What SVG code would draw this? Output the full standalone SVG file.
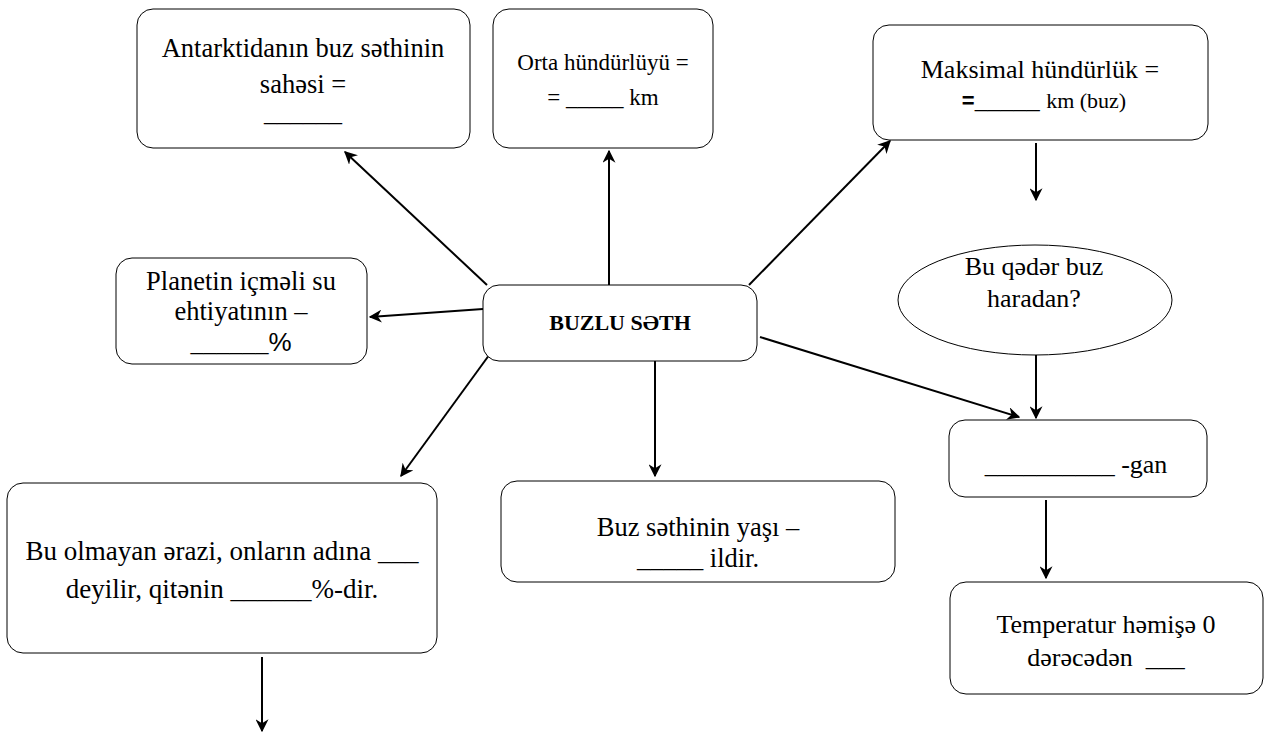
<svg xmlns="http://www.w3.org/2000/svg" width="1266" height="733" viewBox="0 0 1266 733">
  <style>
    .box { fill: #ffffff; stroke: #000000; stroke-width: 1; }
    .lbl { font-family: 'Liberation Serif', 'Times New Roman', serif; font-size: 26px; fill: #000000; text-anchor: middle; }
    .bold { font-weight: bold; font-size: 22px; }
    .small { font-size: 22px; }
    .sans { font-family: 'Liberation Sans', Arial, sans-serif; }
    .conn line { stroke: #000000; stroke-width: 2; marker-end: url(#arrow); }
  </style>
  <defs>
    <marker id="arrow" viewBox="0 0 10 10" refX="9" refY="5" markerWidth="6.5" markerHeight="6.5" orient="auto" markerUnits="strokeWidth">
      <path d="M0,0 L10,5 L0,10 L3,5 z" fill="#000000"/>
    </marker>
  </defs>
  <rect width="1266" height="733" fill="#ffffff"/>

  <!-- connectors from the central node and between the side nodes -->
  <g class="conn">
    <line x1="487" y1="285" x2="345" y2="152"/>
    <line x1="609" y1="285" x2="609" y2="151"/>
    <line x1="749" y1="285" x2="890" y2="141"/>
    <line x1="483" y1="309" x2="370" y2="317"/>
    <line x1="503" y1="336" x2="401" y2="476"/>
    <line x1="655" y1="360" x2="655" y2="476"/>
    <line x1="760" y1="337" x2="1019" y2="417"/>
    <line x1="1036" y1="143" x2="1036" y2="200"/>
    <line x1="1036" y1="341" x2="1036" y2="418"/>
    <line x1="1046" y1="500" x2="1046" y2="578"/>
    <line x1="262" y1="657" x2="262" y2="731"/>
  </g>

  <g id="antarktida">
    <rect class="box" x="137" y="9" width="333" height="139" rx="16"/>
    <text class="lbl" x="303" y="57" style="font-size:26.5px">Antarktidanın buz səthinin</text>
    <text class="lbl" x="303" y="93" style="font-size:26.5px">sahəsi =</text>
    <text class="lbl" x="303" y="121">______</text>
  </g>

  <g id="orta">
    <rect class="box" x="493" y="9" width="220" height="139" rx="16"/>
    <text class="lbl" x="603" y="70" style="font-size:23px">Orta hündürlüyü =</text>
    <text class="lbl" x="603" y="105" style="font-size:23px">= _____ km</text>
  </g>

  <g id="maksimal">
    <rect class="box" x="873" y="25" width="335" height="115" rx="16"/>
    <text class="lbl" x="1040" y="78">Maksimal hündürlük =</text>
    <text class="lbl" x="1044" y="108"><tspan class="sans" font-weight="bold" style="font-size:22px">=</tspan>_____ <tspan class="small">km (buz)</tspan></text>
  </g>

  <g id="planetin">
    <rect class="box" x="116" y="258" width="251" height="106" rx="16"/>
    <text class="lbl" x="241" y="290" style="font-size:26.5px">Planetin içməli su</text>
    <text class="lbl" x="241" y="320" style="font-size:26.5px">ehtiyatının –</text>
    <text class="lbl" x="241" y="351">______<tspan class="sans">%</tspan></text>
  </g>

  <g id="buzlu-seth">
    <rect class="box" x="483" y="285" width="274" height="76" rx="16"/>
    <text class="lbl bold" x="620" y="330">BUZLU SƏTH</text>
  </g>

  <g id="haradan">
    <ellipse class="box" cx="1035" cy="300" rx="137" ry="55"/>
    <text class="lbl" x="1034" y="275">Bu qədər buz</text>
    <text class="lbl" x="1034" y="307">haradan?</text>
  </g>

  <g id="gan">
    <rect class="box" x="949" y="420" width="258" height="77" rx="16"/>
    <text class="lbl" x="1076" y="473">__________ -gan</text>
  </g>

  <g id="olmayan">
    <rect class="box" x="7" y="483" width="430" height="170" rx="16"/>
    <text class="lbl" x="222" y="560" style="font-size:27px">Bu olmayan ərazi, onların adına ___</text>
    <text class="lbl" x="222" y="598" style="font-size:27px">deyilir, qitənin ______%-dir.</text>
  </g>

  <g id="yas">
    <rect class="box" x="501" y="481" width="394" height="101" rx="16"/>
    <text class="lbl" x="698" y="536" style="font-size:26.5px">Buz səthinin yaşı –</text>
    <text class="lbl" x="698" y="567" style="font-size:26.5px">_____ ildir.</text>
  </g>

  <g id="temperatur">
    <rect class="box" x="950" y="582" width="313" height="112" rx="16"/>
    <text class="lbl" x="1106" y="633">Temperatur həmişə 0</text>
    <text class="lbl" x="1106" y="666" xml:space="preserve">dərəcədən  ___</text>
  </g>
</svg>
